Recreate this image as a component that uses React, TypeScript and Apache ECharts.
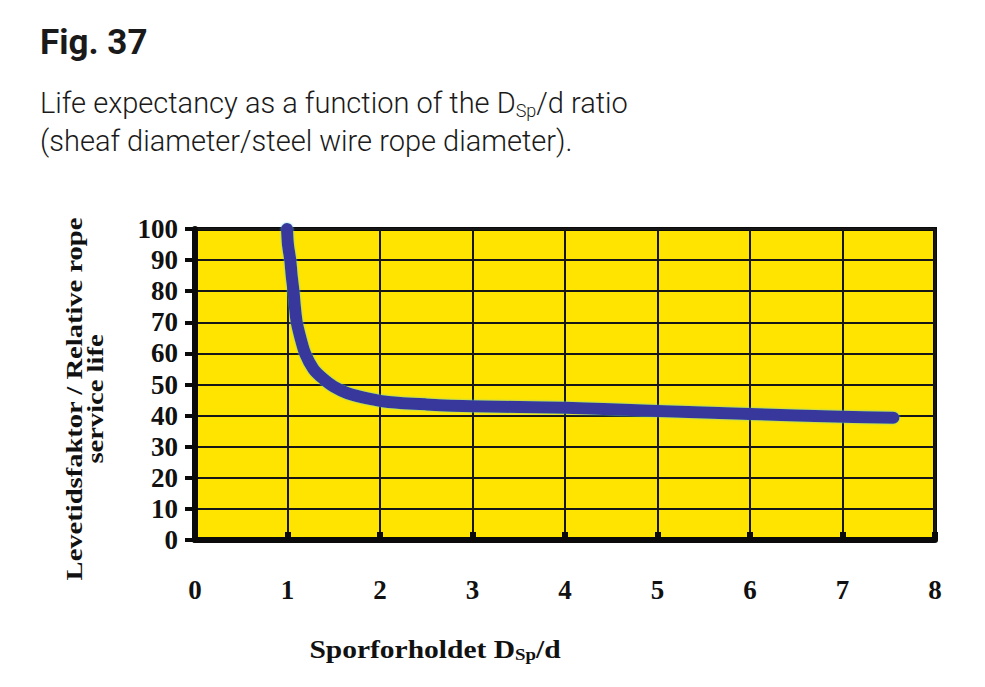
import React, { useEffect, useRef } from "react";
import * as echarts from "echarts";

// Sheave/rope diameter ratio (x) and relative rope service life (y)
const ratioX = [0.995, 1.005, 1.03, 1.045, 1.065, 1.08, 1.1, 1.14, 1.19, 1.28, 1.38, 1.5, 1.65, 1.89, 2.09, 2.5, 3.0, 4.0, 5.0, 6.0, 7.0, 7.55];
const lifeY = [100, 95, 90, 85, 80, 75, 70, 65, 60, 55, 52, 49.3, 47.2, 45.4, 44.4, 43.6, 43.0, 42.5, 41.5, 40.5, 39.6, 39.3];

const xMin = 0;
const xMax = 8;
const yMin = 0;
const yMax = 100;

const figTitle = "Fig. 37";
const captionLine1 = "Life expectancy as a function of the D{sub|Sp}/d ratio";
const captionLine2 = "(sheaf diameter/steel wire rope diameter).";
const xAxisTitle = "Sporforholdet D{sub|Sp}/d";
const yAxisTitle = "Levetidsfaktor / Relative rope\nservice life";

const SERIF = "'Liberation Serif', 'Times New Roman', serif";
const SANS = "Roboto, 'Open Sans', sans-serif";

export default function App() {
  const ref = useRef<HTMLDivElement>(null);

  useEffect(() => {
    document.body.style.margin = "0";
    if (!ref.current) return;
    const chart = echarts.init(ref.current, undefined, { renderer: "svg" });

    const option: any = {
      animation: false,
      backgroundColor: "#ffffff",
      grid: {
        left: 195,
        top: 229,
        width: 740,
        height: 311,
        show: true,
        backgroundColor: "#ffe400",
        borderColor: "#0a0a0a",
        borderWidth: 4,
      },
      xAxis: {
        type: "value",
        min: xMin,
        max: xMax,
        interval: 1,
        axisLine: { show: true, lineStyle: { color: "#0a0a0a", width: 6 } },
        axisTick: { show: true, inside: true, length: 8, lineStyle: { color: "#0a0a0a", width: 6 } },
        axisLabel: {
          color: "#111",
          fontFamily: SERIF,
          fontWeight: "bold",
          fontSize: 27,
          margin: 36,
        },
        splitLine: { show: true, lineStyle: { color: "#161616", width: 2 } },
      },
      yAxis: {
        type: "value",
        min: yMin,
        max: yMax,
        interval: 10,
        axisLine: { show: true, lineStyle: { color: "#0a0a0a", width: 6 } },
        axisTick: { show: true, inside: false, length: 10, lineStyle: { color: "#0a0a0a", width: 4 } },
        axisLabel: {
          color: "#111",
          fontFamily: SERIF,
          fontWeight: "bold",
          fontSize: 27,
          margin: 17,
        },
        splitLine: { show: true, lineStyle: { color: "#161616", width: 2 } },
      },
      series: [
        {
          type: "line",
          data: ratioX.map((x, i) => [x, lifeY[i]]),
          smooth: 0.3,
          showSymbol: false,
          clip: false,
          lineStyle: {
            color: "#37379c",
            width: 12,
            cap: "round",
            join: "round",
            shadowColor: "rgba(90,200,220,0.8)",
            shadowBlur: 2,
          },
        },
      ],
      graphic: [
        {
          type: "text",
          left: 40,
          top: 25,
          style: {
            text: figTitle,
            fontFamily: SANS,
            fontWeight: "bold",
            fontSize: 35,
            fill: "#1a1a1a",
          },
        },
        {
          type: "text",
          left: 40,
          top: 88,
          style: {
            text: captionLine1,
            fontFamily: SANS,
            fontWeight: 300,
            fontSize: 29,
            fill: "#1a1a1a",
            rich: {
              sub: {
                fontFamily: SANS,
                fontWeight: 300,
                fontSize: 18,
                fill: "#1a1a1a",
                padding: [16, 0, 0, 0],
              },
            },
          },
        },
        {
          type: "text",
          left: 40,
          top: 126,
          style: {
            text: captionLine2,
            fontFamily: SANS,
            fontWeight: 300,
            fontSize: 29,
            fill: "#1a1a1a",
          },
        },
        {
          type: "text",
          x: 435,
          y: 650,
          scaleX: 1.18,
          style: {
            text: xAxisTitle,
            fontFamily: SERIF,
            fontWeight: "bold",
            fontSize: 25,
            fill: "#111",
            align: "center",
            verticalAlign: "middle",
            rich: {
              sub: {
                fontFamily: SERIF,
                fontWeight: "bold",
                fontSize: 16,
                fill: "#111",
                padding: [10, 0, 0, 0],
              },
            },
          },
        },
        {
          type: "text",
          x: 85,
          y: 399,
          rotation: Math.PI / 2,
          scaleX: 1.19,
          style: {
            text: yAxisTitle,
            fontFamily: SERIF,
            fontWeight: "bold",
            fontSize: 24,
            lineHeight: 21,
            fill: "#111",
            align: "center",
            verticalAlign: "middle",
          },
        },
      ],
    };

    chart.setOption(option);
    return () => chart.dispose();
  }, []);

  return (
    <div
      ref={ref}
      style={{ position: "absolute", left: 0, top: 0, width: 985, height: 687 }}
    />
  );
}
